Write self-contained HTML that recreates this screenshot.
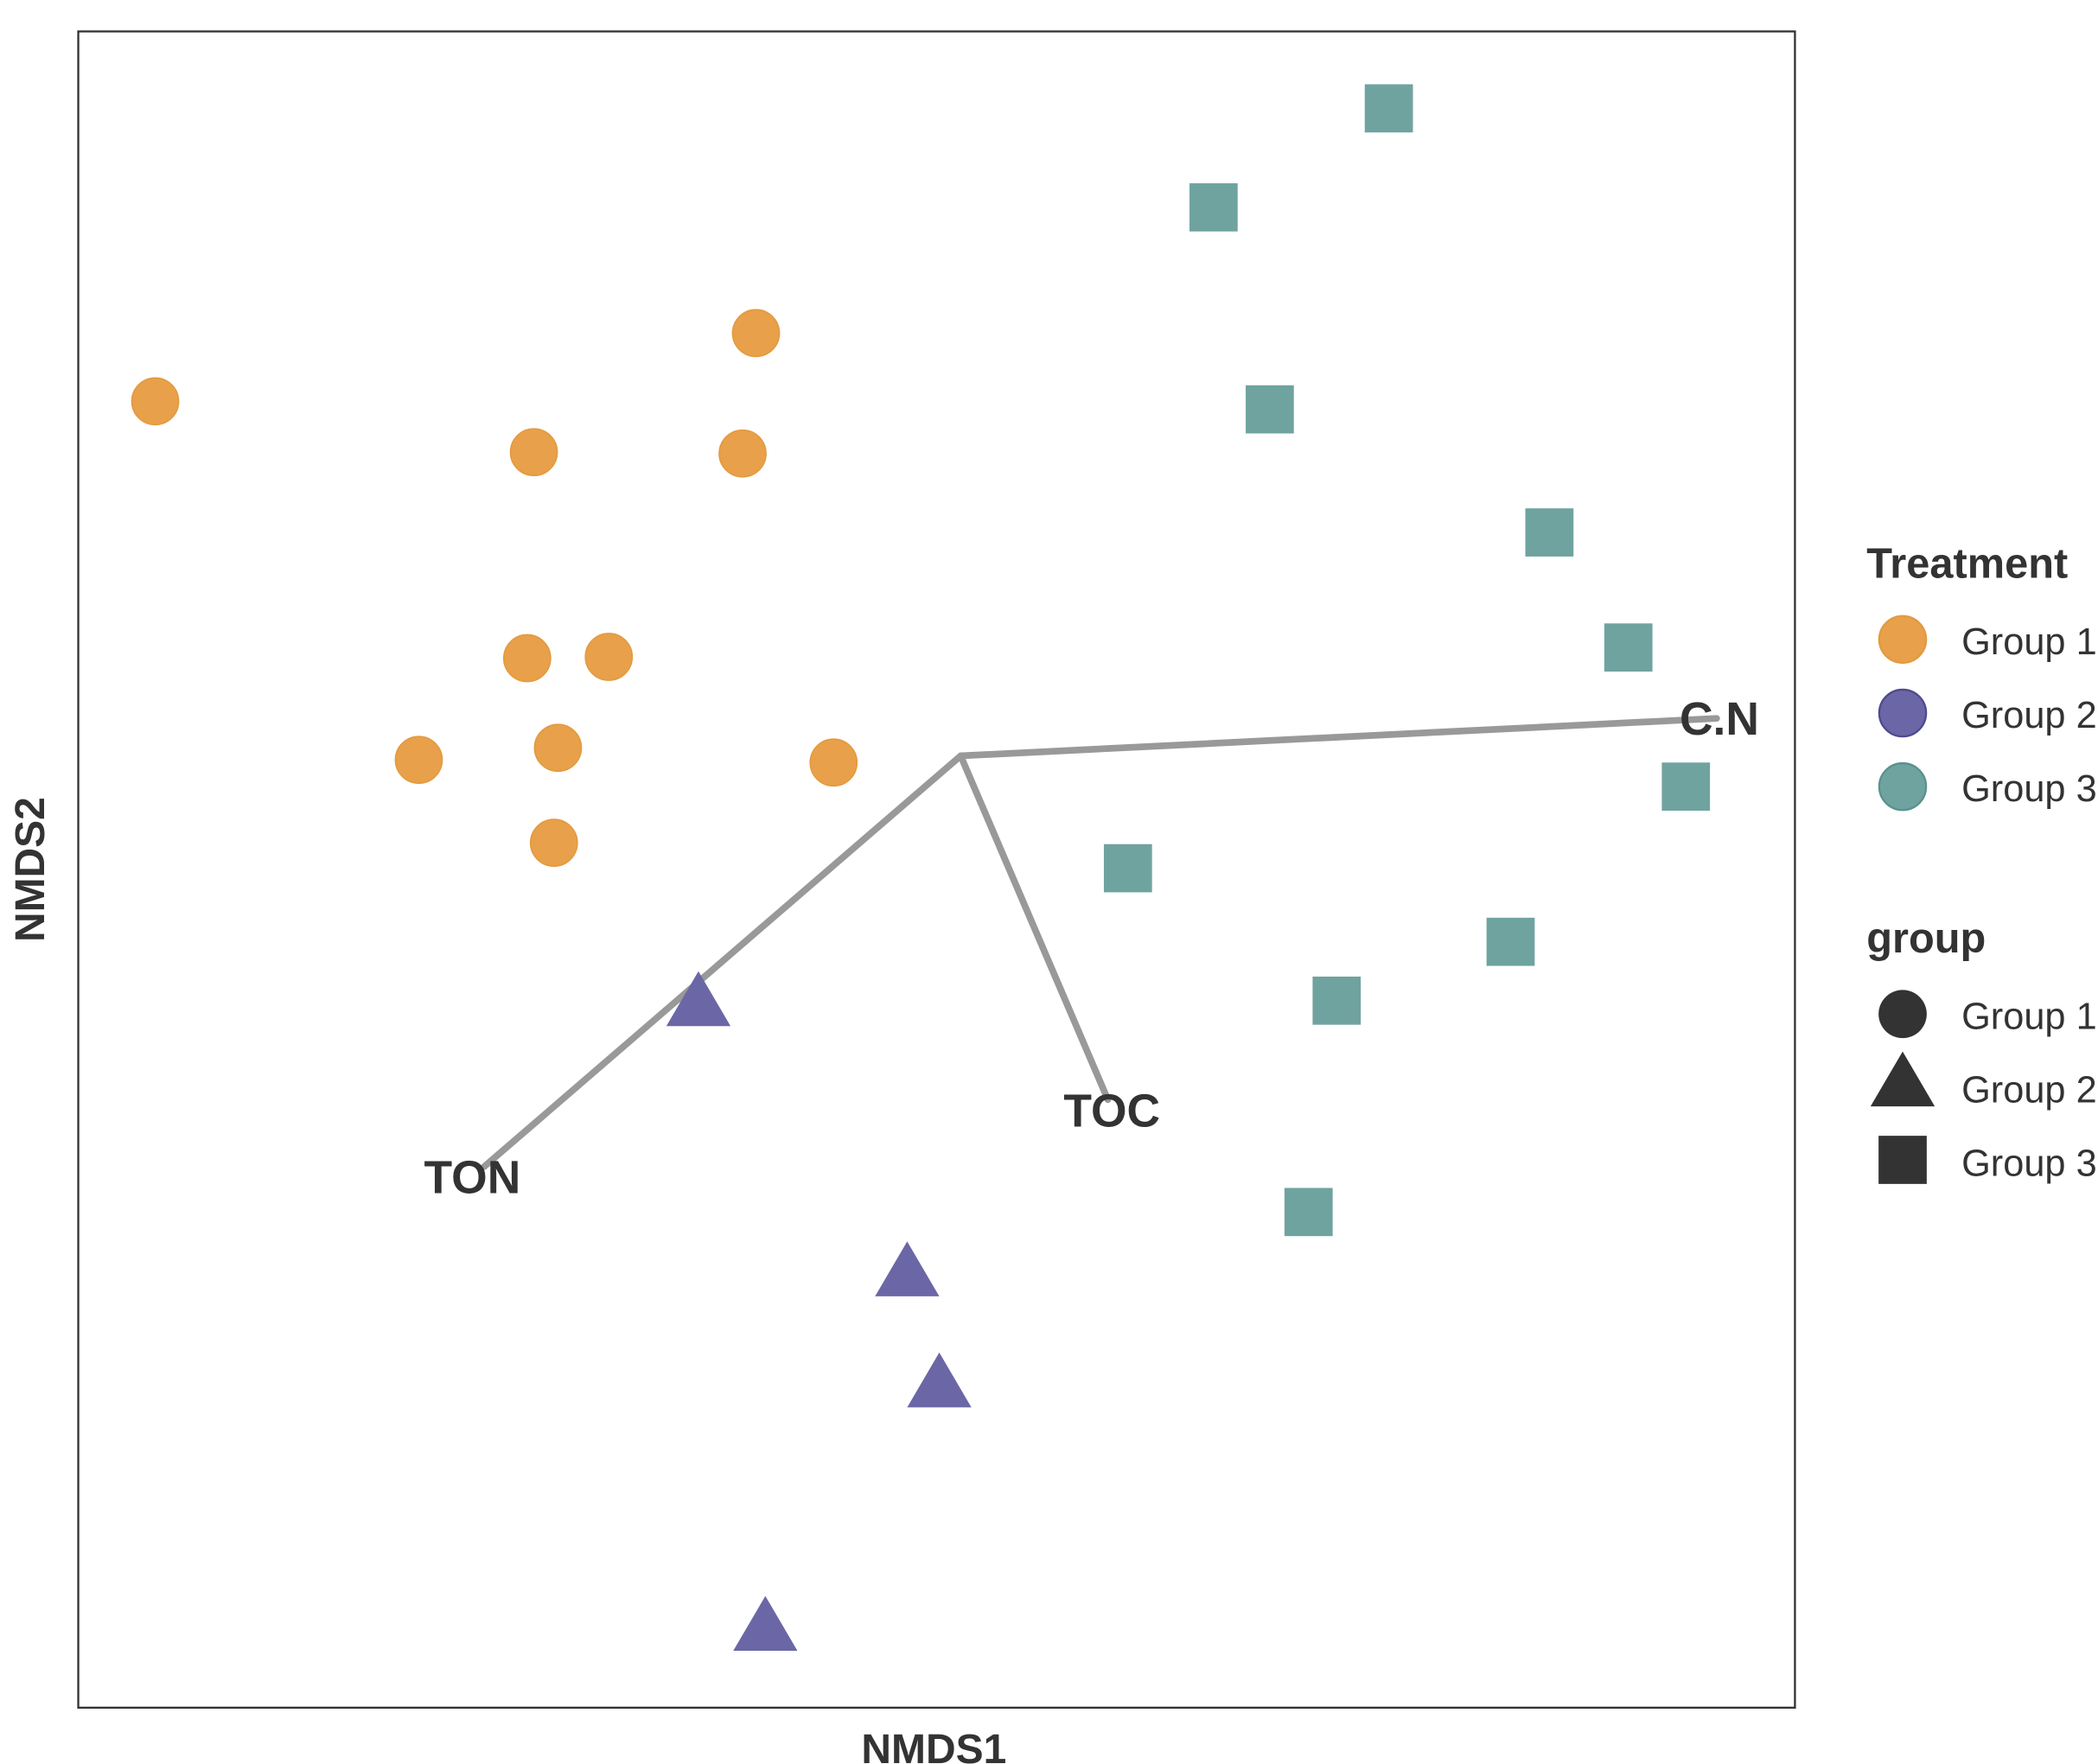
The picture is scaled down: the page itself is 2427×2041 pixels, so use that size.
<!DOCTYPE html>
<html><head><meta charset="utf-8"><style>
html,body{margin:0;padding:0;background:#fff;}
svg{display:block;}
text{font-family:"Liberation Sans",Arial,sans-serif;fill:#333;}
</style></head><body>
<svg width="2427" height="2041" viewBox="0 0 1568 1318.6" preserveAspectRatio="none" xmlns="http://www.w3.org/2000/svg">
<rect x="58.5" y="23.5" width="1283" height="1253" fill="#fff" stroke="#333" stroke-width="1.5"/>
<g stroke="#999" stroke-width="5" stroke-linecap="round" fill="none">
<line x1="718" y1="565" x2="1283" y2="537"/>
<line x1="718" y1="565" x2="362" y2="872"/>
<line x1="718" y1="565" x2="828" y2="822"/>
</g>
<g fill="#E8A04A" stroke="#E39A3F" stroke-width="1">
<circle cx="116" cy="300" r="17.5"/><circle cx="565" cy="249" r="17.5"/>
<circle cx="399" cy="338" r="17.5"/><circle cx="555" cy="339" r="17.5"/>
<circle cx="394" cy="492" r="17.5"/><circle cx="455" cy="491" r="17.5"/>
<circle cx="313" cy="568" r="17.5"/><circle cx="417" cy="559" r="17.5"/>
<circle cx="623" cy="570" r="17.5"/><circle cx="414" cy="630" r="17.5"/>
</g>
<g fill="#6FA3A0">
<rect x="1020" y="63" width="36" height="36"/><rect x="889" y="137" width="36" height="36"/>
<rect x="931" y="288" width="36" height="36"/><rect x="1140" y="380" width="36" height="36"/>
<rect x="1199" y="466" width="36" height="36"/><rect x="1242" y="570" width="36" height="36"/>
<rect x="825" y="631" width="36" height="36"/><rect x="1111" y="686" width="36" height="36"/>
<rect x="981" y="730" width="36" height="36"/><rect x="960" y="888" width="36" height="36"/>
</g>
<g fill="#6B67A6">
<polygon points="522,726 498,767 546,767"/>
<polygon points="678,928 654,969 702,969"/>
<polygon points="702,1011 678,1052 726,1052"/>
<polygon points="572,1193 548,1234 596,1234"/>
</g>
<g font-weight="bold" font-size="34.5" text-anchor="middle">
<text x="1285" y="549">C.N</text>
<text x="353" y="892">TON</text>
<text x="831" y="842">TOC</text>
</g>
<text x="698" y="1318" font-weight="bold" font-size="31" text-anchor="middle">NMDS1</text>
<text transform="translate(33,650) rotate(-90)" font-weight="bold" font-size="31" text-anchor="middle">NMDS2</text>
<text x="1395" y="432" font-weight="bold" font-size="31.5">Treatment</text>
<circle cx="1422" cy="478" r="17.5" fill="#E8A04A" stroke="#E39A3F" stroke-width="1.5"/>
<circle cx="1422" cy="533" r="17.5" fill="#6B67A6" stroke="#4E4A8F" stroke-width="1.5"/>
<circle cx="1422" cy="588" r="17.5" fill="#6FA3A0" stroke="#5A918E" stroke-width="1.5"/>
<g font-size="28">
<text x="1466" y="489">Group 1</text><text x="1466" y="544">Group 2</text><text x="1466" y="599">Group 3</text>
</g>
<text x="1395" y="712" font-weight="bold" font-size="31.5">group</text>
<circle cx="1422" cy="758" r="18" fill="#333"/>
<polygon points="1422,786 1398,827 1446,827" fill="#333"/>
<rect x="1404" y="849" width="36" height="36" fill="#333"/>
<g font-size="28">
<text x="1466" y="769">Group 1</text><text x="1466" y="824">Group 2</text><text x="1466" y="879">Group 3</text>
</g>
</svg>
</body></html>
